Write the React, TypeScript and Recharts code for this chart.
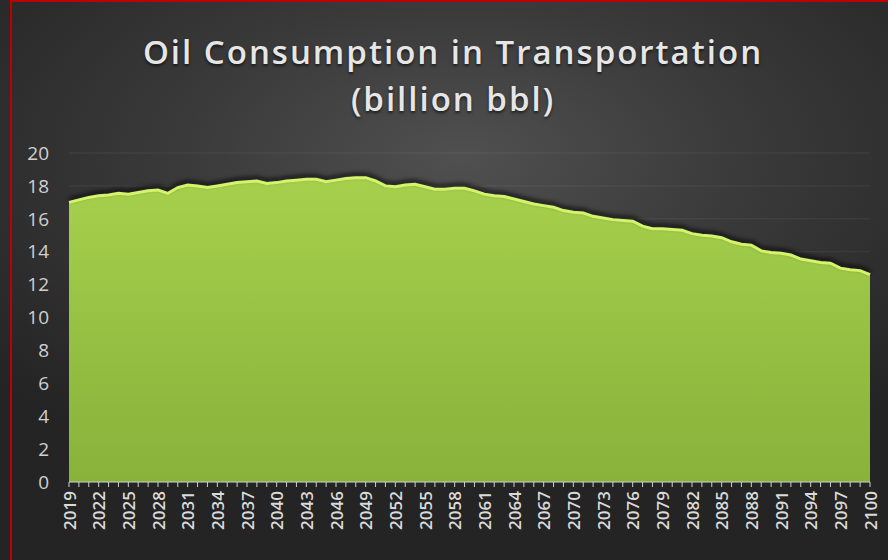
import React from 'react'
import { AreaChart, Area, XAxis, YAxis, CartesianGrid } from 'recharts'

const years = Array.from({ length: 82 }, (_, i) => String(2019 + i))

// billion bbl
const consumption = [
  17.0, 17.15, 17.3, 17.4, 17.45, 17.55, 17.5, 17.6, 17.7, 17.75,
  17.55, 17.9, 18.05, 18.0, 17.9, 18.0, 18.1, 18.2, 18.25, 18.3,
  18.15, 18.2, 18.3, 18.35, 18.4, 18.4, 18.25, 18.35, 18.45, 18.5,
  18.5, 18.3, 18.0, 17.95, 18.05, 18.1, 17.95, 17.8, 17.8, 17.85,
  17.85, 17.7, 17.5, 17.4, 17.35, 17.2, 17.05, 16.9, 16.8, 16.7,
  16.5, 16.4, 16.35, 16.15, 16.05, 15.95, 15.9, 15.85, 15.55, 15.4,
  15.4, 15.35, 15.3, 15.1, 15.0, 14.95, 14.85, 14.6, 14.45, 14.4,
  14.05, 13.95, 13.9, 13.8, 13.55, 13.45, 13.35, 13.3, 13.0, 12.9,
  12.85, 12.6,
]

const yTicks = [0, 2, 4, 6, 8, 10, 12, 14, 16, 18, 20]

const data = years.map((year, i) => ({ year, value: consumption[i] }))

const font = '"Open Sans", "Liberation Sans", sans-serif'

const YearTick = (props: any) => {
  const { x, y, payload, index } = props
  if (index % 3 !== 0) return <g />
  return (
    <text
      x={x}
      y={y}
      transform={`rotate(-90, ${x}, ${y})`}
      textAnchor="end"
      dominantBaseline="central"
      fill="#dadada"
      fontSize={17}
      fontWeight={600}
      fontFamily={font}
    >
      {payload.value}
    </text>
  )
}

export default function App() {
  return (
    <div
      style={{
        position: 'absolute',
        left: 0,
        top: 0,
        width: 888,
        height: 560,
        overflow: 'hidden',
        background: 'radial-gradient(ellipse 70% 60% at 52% 28%, #505050 0%, #3a3a3a 45%, #242424 100%)',
        fontFamily: font,
      }}
    >
      <style>{`.recharts-area-curve { filter: drop-shadow(0 -3px 2px rgba(0,0,0,0.85)); }`}</style>
      <div
        style={{
          position: 'absolute',
          left: 10,
          top: 0,
          width: 878,
          height: 560,
          borderTop: '2px solid #c00000',
          borderLeft: '2px solid #c00000',
          boxSizing: 'border-box',
        }}
      />
      <div
        style={{
          position: 'absolute',
          left: 0,
          width: 906,
          top: 28,
          textAlign: 'center',
          color: '#e6e6e6',
          fontSize: 33,
          fontWeight: 600,
          lineHeight: '47px',
          letterSpacing: 2,
          textShadow: '0 2px 3px rgba(0,0,0,0.6)',
        }}
      >
        Oil Consumption in Transportation
        <br />
        (billion bbl)
      </div>
      <div style={{ position: 'absolute', left: 0, top: 0 }}>
        <AreaChart width={888} height={560} data={data} margin={{ top: 153, right: 18, bottom: 18, left: 19 }}>
          <defs>
            <linearGradient id="oilFill" x1="0" y1="0" x2="0" y2="1">
              <stop offset="0%" stopColor="#a6d04c" />
              <stop offset="100%" stopColor="#88b23a" />
            </linearGradient>
          </defs>
          <CartesianGrid vertical={false} stroke="rgba(255,255,255,0.07)" />
          <XAxis
            dataKey="year"
            interval={0}
            height={60}
            tick={<YearTick />}
            tickSize={5}
            tickMargin={4}
            stroke="#cfcfcf"
            tickLine={{ stroke: '#cfcfcf' }}
          />
          <YAxis
            domain={[0, 20]}
            ticks={yTicks}
            width={50}
            axisLine={false}
            tickLine={false}
            tickSize={0}
            tickMargin={20}
            tick={{ fill: '#d0d0d0', fontSize: 19, fontFamily: font }}
          />
          <Area
            type="linear"
            dataKey="value"
            stroke="#d4f46c"
            strokeWidth={3}
            fill="url(#oilFill)"
            fillOpacity={1}
            isAnimationActive={false}
          />
        </AreaChart>
      </div>
    </div>
  )
}
